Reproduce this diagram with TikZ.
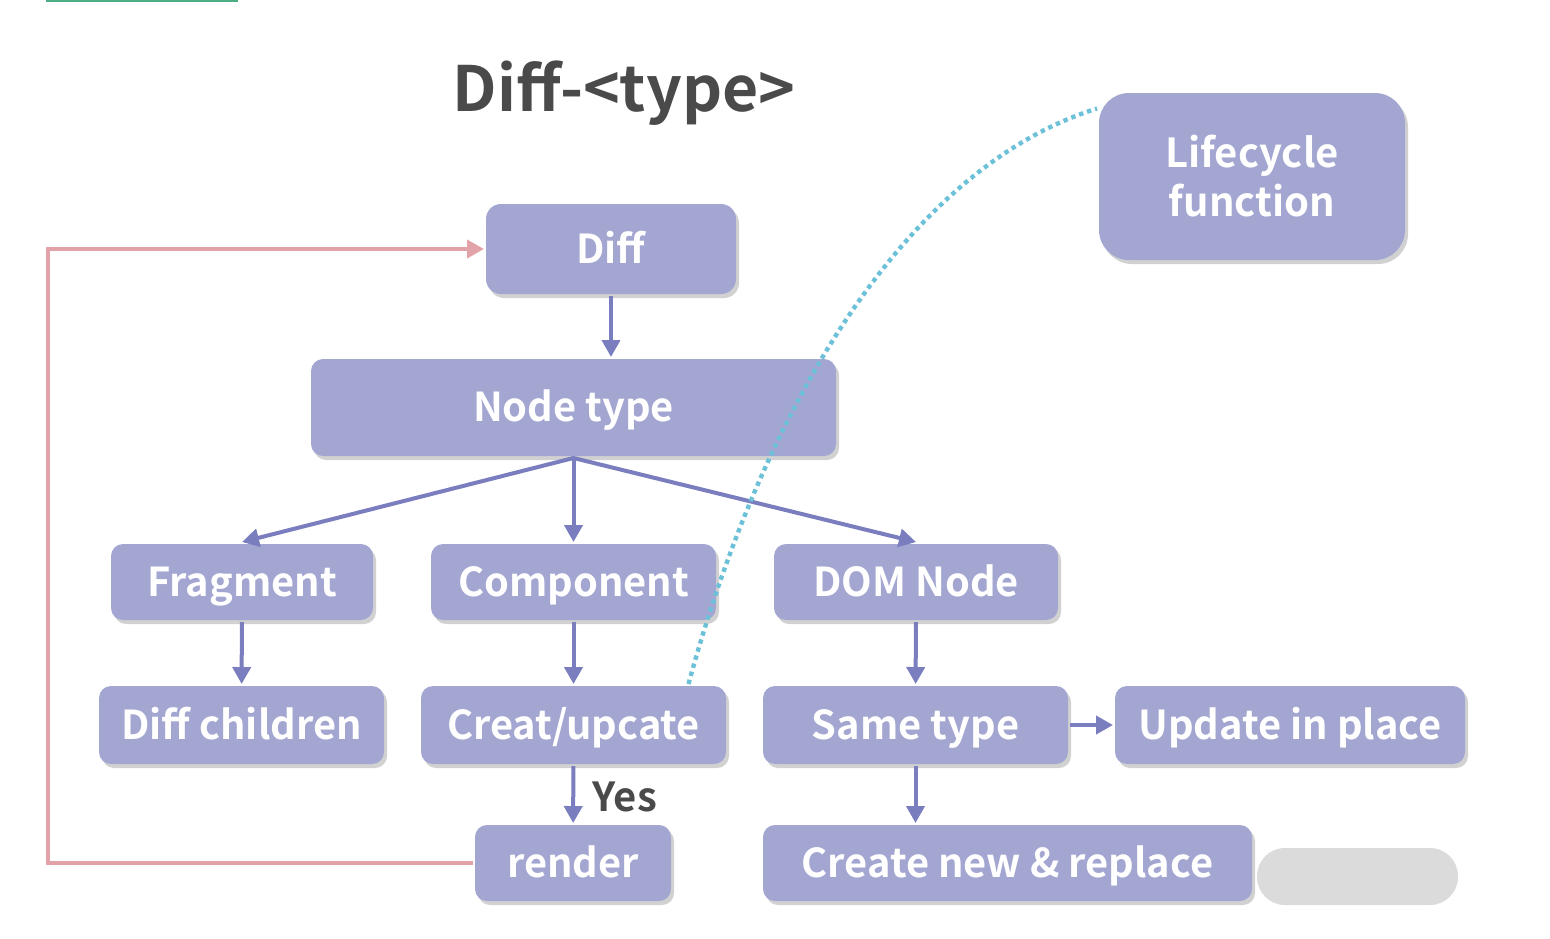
\documentclass[tikz,border=0pt]{standalone}
\usepackage{fontspec}
\setmainfont{Noto Sans CJK SC}[BoldFont={Noto Sans CJK SC Bold}]
\usepackage{tikz}
\usetikzlibrary{arrows.meta, shadows, positioning}

\definecolor{boxfill}{HTML}{A4A6D2}
\definecolor{flowline}{HTML}{7A7EBE}
\definecolor{loopline}{HTML}{E2A3A8}
\definecolor{hookline}{HTML}{6CC1D9}
\definecolor{titlegrey}{HTML}{4A4A4A}
\definecolor{topbar}{HTML}{4CAF83}

\begin{document}
\begin{tikzpicture}[x=0.5pt, y=-0.5pt, line width=2pt, >={Triangle[length=8.5pt,width=9pt]},
    card/.style={rectangle, rounded corners=6pt, fill=boxfill, text=white, inner sep=0pt,
        font=\bfseries\fontsize{19.9}{22}\selectfont, minimum height=38pt,
        drop shadow={shadow xshift=1.5pt, shadow yshift=-2pt, fill=black, opacity=0.18}},
    box/.style={card, text height=18pt, text depth=4pt}]
    \useasboundingbox (0,0) rectangle (1550,938);
    \fill[topbar] (46,0) rectangle (238,2);

    % Title
    \node[text=titlegrey, font=\bfseries\fontsize{31.2}{34}\selectfont] (title) at (624,93) {Diff-<type>};

    % Top of the flow
    \node[box, minimum width=125pt, minimum height=45pt, rounded corners=7.5pt] (diff) at (611,249) {Diff};
    \node[card, minimum width=153pt, minimum height=83.5pt, rounded corners=15pt, align=center,
        font=\bfseries\fontsize{20}{24.5}\selectfont] (life) at (1252,176.5) {Lifecycle\\function};
    \node[box, minimum width=262.5pt, minimum height=48.5pt] (ntype) at (573.5,407.5) {Node type};

    % The three kinds of node
    \node[box, minimum width=131pt] (frag) at (242,582) {Fragment};
    \node[box, minimum width=142.5pt] (comp) at (573.5,582) {Component};
    \node[box, minimum width=142pt] (dom) at (916,582) {DOM Node};

    % What happens to each kind
    \node[box, minimum width=142.5pt, minimum height=39pt] (dchild) at (241.5,725) {Diff children};
    \node[box, minimum width=152.5pt, minimum height=39pt] (creat) at (573.5,725) {Creat/upcate};
    \node[box, minimum width=152.5pt, minimum height=39pt] (same) at (915.5,725) {Same type};
    \node[box, minimum width=175pt, minimum height=39pt] (upd) at (1290,725) {Update in place};
    \node[box, minimum width=98pt] (render) at (573,863) {render};
    \node[box, minimum width=244.5pt] (newrep) at (1007.5,863) {Create new \& replace};

    % Blurred mark in the corner
    \node[rectangle, rounded corners=14pt, fill=black!14, minimum width=100.5pt, minimum height=28.5pt] (mark) at (1357.5,876.5) {};

    \coordinate (loopx) at (48,0);

    % Fan out from Node type
    \draw[<->, flowline] (frag.north) -- (ntype.south) -- (dom.north);

    \path[->, color=flowline]
    (diff) edge (diff |- ntype.north)
    (ntype.south) edge (comp.north)
    (frag) edge (dchild)
    (comp) edge (creat)
    (dom) edge (same)
    (same) edge (upd)
    (same) edge (same |- newrep.north)
    (creat) edge node[right, text=titlegrey, font=\bfseries\fontsize{20}{22}\selectfont, xshift=5.5pt, yshift=-1pt] {Yes} (render);

    % Back to Diff after render
    \draw[->, loopline] (render.west) -- (render.west -| loopx) |- (diff.west);

    % Hook into the lifecycle
    \draw[hookline, line width=2.2pt, dash pattern=on 2.2pt off 2pt] ([xshift=57.5pt]creat.north) .. controls (760,420) and (900,170) .. ([yshift=34pt]life.west);
\end{tikzpicture}
\end{document}
